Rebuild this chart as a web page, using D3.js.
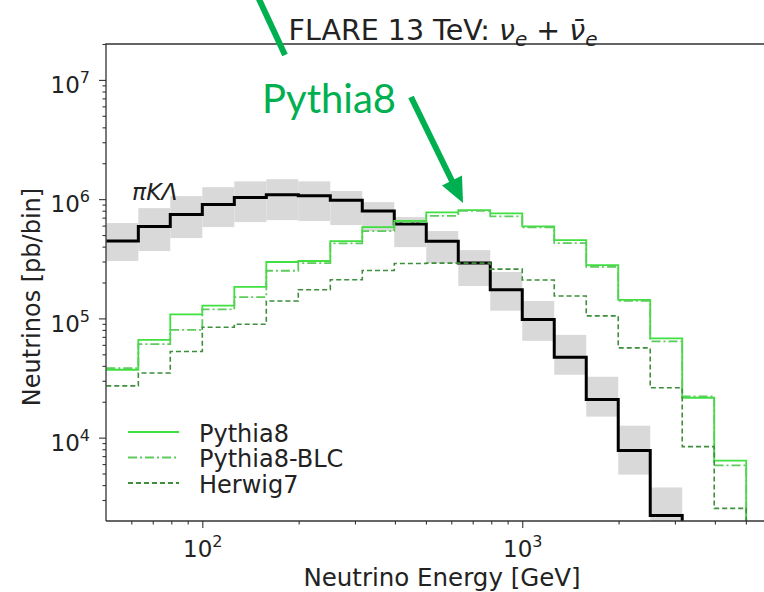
<!DOCTYPE html>
<html>
<head>
<meta charset="utf-8">
<script src="https://cdn.jsdelivr.net/npm/d3@7"></script>
<style>
  html, body { margin: 0; padding: 0; background: #fff; }
  svg { display: block; font-family: "DejaVu Sans", sans-serif; }
</style>
</head>
<body>
<svg id="chart" width="764" height="592"></svg>
<script>
// Bin edges of the energy histogram [GeV], ten bins per decade
const binEdges = [50.1, 63.1, 79.4, 100, 125.9, 158.5, 199.5, 251.2, 316.2, 398.1,
  501.2, 631.0, 794.3, 1000, 1258.9, 1584.9, 1995.3, 2511.9, 3162.3, 3981.1, 5011.9];

// Light-hadron (pi, K, Lambda) neutrinos, with uncertainty band
const piKLambda = [4.46e5, 5.9e5, 7.45e5, 9.0e5, 1.03e6, 1.09e6, 1.07e6, 9.8e5, 7.94e5,
  6.18e5, 4.43e5, 2.91e5, 1.74e5, 9.8e4, 4.73e4, 2.09e4, 7.8e3, 2.22e3];
const piKLambdaLow = [3.03e5, 3.67e5, 4.72e5, 5.83e5, 6.42e5, 6.67e5, 6.55e5, 6.06e5, 5.40e5,
  3.96e5, 2.91e5, 1.87e5, 1.16e5, 6.48e4, 3.37e4, 1.50e4, 4.90e3, 9.8e2];
const piKLambdaHigh = [6.30e5, 8.41e5, 1.06e6, 1.26e6, 1.41e6, 1.47e6, 1.41e6, 1.17e6, 9.44e5,
  7.07e5, 5.40e5, 3.74e5, 2.45e5, 1.40e5, 7.28e4, 3.24e4, 1.26e4, 3.82e3];

// Charm neutrinos for three generators
const pythia8 = [3.71e4, 6.61e4, 1.08e5, 1.28e5, 1.84e5, 2.97e5, 3.03e5, 4.45e5, 5.83e5, 6.58e5,
  7.74e5, 8.09e5, 7.59e5, 5.91e5, 4.54e5, 2.80e5, 1.43e5, 6.80e4, 2.16e4, 6.42e3];
const pythia8BLC = [3.83e4, 6.08e4, 8.01e4, 1.19e5, 1.51e5, 2.51e5, 2.91e5, 4.26e5, 5.40e5, 6.42e5,
  7.25e5, 7.98e5, 7.16e5, 5.80e5, 4.28e5, 2.71e5, 1.40e5, 6.42e4, 2.22e4, 5.86e3];
const herwig7 = [2.72e4, 3.48e4, 5.27e4, 8.44e4, 8.94e4, 1.40e5, 1.74e5, 2.11e5, 2.52e5, 2.89e5,
  2.91e5, 2.91e5, 2.59e5, 2.10e5, 1.54e5, 1.05e5, 5.66e4, 2.62e4, 8.41e3, 2.55e3];

const seriesNames = ["Pythia8", "Pythia8-BLC", "Herwig7"];

// Axis tick positions
const xMajorTicks = [100, 1000];
const xMinorTicks = [60, 70, 80, 90, 200, 300, 400, 500, 600, 700, 800, 900, 2000, 3000, 4000, 5000, 6000];
const yMajorTicks = [1e4, 1e5, 1e6, 1e7];
const yMinorTicks = [3e3, 4e3, 5e3, 6e3, 7e3, 8e3, 9e3, 2e4, 3e4, 4e4, 5e4, 6e4, 7e4, 8e4, 9e4,
  2e5, 3e5, 4e5, 5e5, 6e5, 7e5, 8e5, 9e5, 2e6, 3e6, 4e6, 5e6, 6e6, 7e6, 8e6, 9e6, 2e7];

const svg = d3.select("#chart");
const plot = { left: 106, top: 44, right: 778, bottom: 521 };

const x = d3.scaleLog().domain([50, 6300]).range([plot.left, plot.right]);
const y = d3.scaleLog().domain([2e3, 2e7]).range([plot.bottom, plot.top]);

svg.append("defs").append("clipPath").attr("id", "plotClip")
  .append("rect")
  .attr("x", plot.left).attr("y", plot.top)
  .attr("width", plot.right - plot.left).attr("height", plot.bottom - plot.top);

const area = svg.append("g").attr("clip-path", "url(#plotClip)");

// Uncertainty band of the light-hadron component
area.selectAll("rect.band")
  .data(piKLambda.map((v, i) => i))
  .enter().append("rect")
  .attr("class", "band")
  .attr("x", i => x(binEdges[i]))
  .attr("width", i => x(binEdges[i + 1]) - x(binEdges[i]))
  .attr("y", i => y(piKLambdaHigh[i]))
  .attr("height", i => y(piKLambdaLow[i]) - y(piKLambdaHigh[i]))
  .attr("fill", "#d9d9d9");

// Step outline of a histogram, dropping to the floor after the last bin
function stepPoints(values) {
  const pts = [];
  values.forEach((v, i) => {
    pts.push([x(binEdges[i]), y(v)]);
    pts.push([x(binEdges[i + 1]), y(v)]);
  });
  pts.push([x(binEdges[values.length]), plot.bottom + 5]);
  return pts;
}
const line = d3.line();

area.append("path")
  .attr("d", line(stepPoints(piKLambda)))
  .attr("fill", "none").attr("stroke", "#000").attr("stroke-width", 3)
  .attr("stroke-linejoin", "miter");

const styles = [
  { data: pythia8, color: "#3fe03f", dash: null, width: 1.8 },
  { data: pythia8BLC, color: "#5ccc5c", dash: "9,3,2,3", width: 1.8 },
  { data: herwig7, color: "#3d8f3d", dash: "5,3", width: 1.6 }
];

styles.forEach(s => {
  area.append("path")
    .attr("d", line(stepPoints(s.data)))
    .attr("fill", "none").attr("stroke", s.color).attr("stroke-width", s.width)
    .attr("stroke-dasharray", s.dash);
});

// Axes
function powerLabel(sel, v) {
  const exp = Math.round(Math.log10(v));
  sel.text(null);
  sel.append("tspan").text("10");
  sel.append("tspan").attr("dy", -10).attr("font-size", "16px").text(exp);
}

const xMinor = svg.append("g").attr("transform", `translate(0,${plot.bottom})`)
  .call(d3.axisBottom(x).tickValues(xMinorTicks).tickSize(3.5).tickFormat(""));
const xMajor = svg.append("g").attr("transform", `translate(0,${plot.bottom})`)
  .call(d3.axisBottom(x).tickValues(xMajorTicks).tickSize(7).tickPadding(7));
xMajor.selectAll("text")
  .attr("font-size", "23px").attr("font-family", "DejaVu Sans").attr("fill", "#222")
  .attr("dy", "0.95em")
  .each(function (d) { powerLabel(d3.select(this), d); });

const yMinor = svg.append("g").attr("transform", `translate(${plot.left},0)`)
  .call(d3.axisLeft(y).tickValues(yMinorTicks).tickSize(3.5).tickFormat(""));
const yMajor = svg.append("g").attr("transform", `translate(${plot.left},0)`)
  .call(d3.axisLeft(y).tickValues(yMajorTicks).tickSize(7).tickPadding(9));
yMajor.selectAll("text")
  .attr("font-size", "23px").attr("font-family", "DejaVu Sans").attr("fill", "#222")
  .attr("dy", "0.55em")
  .each(function (d) { powerLabel(d3.select(this), d); });

[xMinor, xMajor, yMinor, yMajor].forEach(g => {
  g.select(".domain").remove();
  g.selectAll(".tick line").attr("stroke", "#333").attr("stroke-width", 1.1);
});

// Frame
svg.append("path")
  .attr("d", `M${plot.left},${plot.bottom}V${plot.top}H${plot.right}`)
  .attr("fill", "none").attr("stroke", "#333").attr("stroke-width", 1.3);
svg.append("line")
  .attr("x1", plot.left).attr("x2", plot.right)
  .attr("y1", plot.bottom).attr("y2", plot.bottom)
  .attr("stroke", "#333").attr("stroke-width", 1.3);

// Axis titles
svg.append("text")
  .attr("x", 442).attr("y", 586)
  .attr("text-anchor", "middle").attr("font-size", "24.5px").attr("fill", "#222")
  .text("Neutrino Energy [GeV]");
svg.append("text")
  .attr("transform", "translate(40,297) rotate(-90)")
  .attr("text-anchor", "middle").attr("font-size", "24px").attr("fill", "#222")
  .text("Neutrinos [pb/bin]");

// Title
const title = svg.append("text")
  .attr("x", 443).attr("y", 40)
  .attr("text-anchor", "middle").attr("font-size", "28.5px").attr("fill", "#222");
title.append("tspan").text("FLARE 13 TeV: ");
title.append("tspan").attr("font-style", "italic").text("ν");
title.append("tspan").attr("font-style", "italic").attr("font-size", "20px").attr("dy", 6).text("e");
title.append("tspan").attr("dy", -6).text(" + ");
title.append("tspan").attr("font-style", "italic").text("ν\u0304");
title.append("tspan").attr("font-style", "italic").attr("font-size", "20px").attr("dy", 6).text("e");

// Component label
svg.append("text")
  .attr("x", 132).attr("y", 200)
  .attr("font-size", "23.5px").attr("font-style", "italic").attr("fill", "#222")
  .text("πKΛ");

// Legend
const legend = svg.append("g");
styles.forEach((s, i) => {
  const ly = 432 + i * 25.5;
  legend.append("line")
    .attr("x1", 128).attr("x2", 179).attr("y1", ly).attr("y2", ly)
    .attr("stroke", s.color).attr("stroke-width", 2.2)
    .attr("stroke-dasharray", s.dash);
  legend.append("text")
    .attr("x", 199).attr("y", ly + 9.5)
    .attr("font-size", "24px").attr("fill", "#222")
    .text(seriesNames[i]);
});

// Callout pointing at the Pythia8 peak
const calloutGreen = "#00b050";
svg.append("line")
  .attr("x1", 258).attr("y1", -3).attr("x2", 285).attr("y2", 55)
  .attr("stroke", calloutGreen).attr("stroke-width", 6);
svg.append("text")
  .attr("x", 262).attr("y", 113)
  .attr("font-family", "Lato, 'Open Sans', sans-serif")
  .attr("font-size", "40px").attr("fill", calloutGreen)
  .text("Pythia8");
svg.append("line")
  .attr("x1", 411).attr("y1", 97).attr("x2", 453).attr("y2", 183)
  .attr("stroke", calloutGreen).attr("stroke-width", 6);
svg.append("polygon")
  .attr("points", "463,203 442,185.5 462,175.5")
  .attr("fill", calloutGreen);
</script>
</body>
</html>
